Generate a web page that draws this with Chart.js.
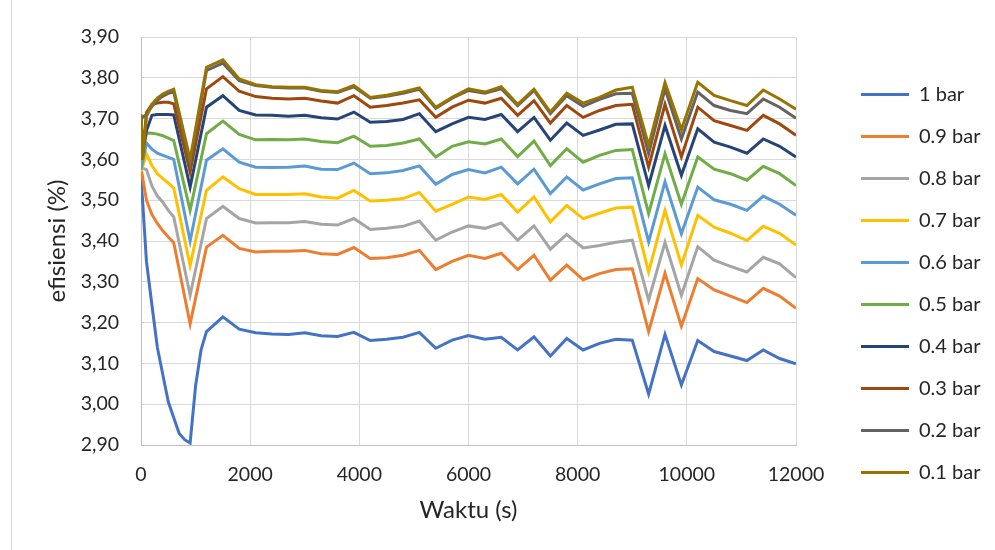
<!DOCTYPE html>
<html><head><meta charset="utf-8">
<script src="https://cdn.jsdelivr.net/npm/chart.js@4.4.1/dist/chart.umd.min.js"></script>
<style>html,body{margin:0;padding:0;background:#fff;}#wrap{width:995px;height:550px;}</style>
</head><body><div id="wrap"><canvas id="c" width="995" height="550"></canvas></div>
<script>
// time (s)
const times = [0, 30, 100, 200, 300, 400, 500, 600, 700, 800, 900, 1000, 1100, 1200, 1500, 1800,
  2100, 2400, 2700, 3000, 3300, 3600, 3900, 4200, 4500, 4800, 5100, 5400, 5700, 6000,
  6300, 6600, 6900, 7200, 7500, 7800, 8100, 8400, 8700, 9000, 9300, 9600, 9900, 10200,
  10500, 10800, 11100, 11400, 11700, 12000];

const seriesNames = ['1 bar', '0.9 bar', '0.8 bar', '0.7 bar', '0.6 bar', '0.5 bar', '0.4 bar', '0.3 bar', '0.2 bar', '0.1 bar'];
const seriesColors = ['#4472C4', '#ED7D31', '#A5A5A5', '#FFC000', '#5B9BD5', '#70AD47', '#264478', '#9E480E', '#636363', '#997300'];

const bar10 = [3.56, null, 3.35, 3.243, 3.139, 3.072, 3.006, 2.967, 2.928, 2.913, 2.905, 3.045, 3.133, 3.178, 3.214, 3.184,
  3.175, 3.172, 3.171, 3.175, 3.168, 3.166, 3.176, 3.156, 3.159, 3.164, 3.176, 3.137, 3.157, 3.168,
  3.159, 3.164, 3.133, 3.165, 3.118, 3.161, 3.133, 3.149, 3.159, 3.157, 3.025, 3.171, 3.047, 3.156,
  3.129, 3.118, 3.107, 3.133, 3.112, 3.099];
const bar09 = [3.58, null, 3.50, 3.465, 3.443, 3.425, 3.41, 3.396, null, null, 3.197, null, null, 3.385, 3.414, 3.382,
  3.373, 3.375, 3.375, 3.377, 3.369, 3.367, 3.384, 3.357, 3.359, 3.365, 3.377, 3.33, 3.35, 3.365,
  3.357, 3.37, 3.33, 3.365, 3.304, 3.341, 3.305, 3.32, 3.33, 3.332, 3.178, 3.321, 3.191, 3.308,
  3.28, 3.265, 3.249, 3.284, 3.265, 3.235];
const bar08 = [3.58, null, 3.575, 3.535, 3.51, 3.495, 3.475, 3.459, null, null, 3.267, null, null, 3.455, 3.485, 3.455,
  3.444, 3.445, 3.445, 3.448, 3.441, 3.439, 3.455, 3.428, 3.431, 3.436, 3.449, 3.402, 3.422, 3.437,
  3.431, 3.444, 3.402, 3.437, 3.38, 3.416, 3.383, 3.389, 3.397, 3.402, 3.255, 3.397, 3.267, 3.386,
  3.353, 3.338, 3.324, 3.36, 3.344, 3.31];
const bar07 = [3.57, null, 3.613, 3.585, 3.565, 3.553, 3.542, 3.53, null, null, 3.34, null, null, 3.524, 3.557, 3.528,
  3.514, 3.514, 3.514, 3.516, 3.508, 3.505, 3.524, 3.498, 3.50, 3.504, 3.519, 3.473, 3.49, 3.508,
  3.502, 3.514, 3.471, 3.508, 3.447, 3.487, 3.455, 3.468, 3.481, 3.483, 3.324, 3.475, 3.341, 3.463,
  3.434, 3.419, 3.401, 3.436, 3.419, 3.39];
const bar06 = [3.575, null, 3.64, 3.625, 3.615, 3.61, 3.605, 3.60, null, null, 3.40, null, null, 3.598, 3.626, 3.593,
  3.581, 3.58, 3.581, 3.584, 3.576, 3.575, 3.591, 3.565, 3.567, 3.573, 3.584, 3.539, 3.563, 3.575,
  3.567, 3.581, 3.54, 3.576, 3.516, 3.557, 3.525, 3.54, 3.553, 3.555, 3.398, 3.545, 3.418, 3.532,
  3.501, 3.49, 3.475, 3.51, 3.49, 3.463];
const bar05 = [3.59, null, 3.665, 3.664, 3.662, 3.658, 3.652, 3.646, null, null, 3.475, null, null, 3.663, 3.694, 3.661,
  3.648, 3.649, 3.648, 3.65, 3.644, 3.641, 3.657, 3.632, 3.634, 3.64, 3.65, 3.606, 3.632, 3.643,
  3.638, 3.65, 3.607, 3.645, 3.585, 3.626, 3.593, 3.61, 3.622, 3.624, 3.467, 3.614, 3.49, 3.606,
  3.576, 3.565, 3.549, 3.583, 3.565, 3.536];
const bar04 = [3.60, null, 3.67, 3.708, 3.71, 3.71, 3.71, 3.709, null, null, 3.532, null, null, 3.728, 3.756, 3.72,
  3.709, 3.708, 3.706, 3.708, 3.702, 3.699, 3.716, 3.691, 3.693, 3.698, 3.712, 3.668, 3.687, 3.703,
  3.698, 3.71, 3.668, 3.703, 3.647, 3.689, 3.659, 3.672, 3.686, 3.687, 3.536, 3.683, 3.561, 3.675,
  3.642, 3.63, 3.615, 3.65, 3.632, 3.606];
const bar03 = [3.71, 3.61, 3.715, 3.735, 3.738, 3.74, 3.74, 3.736, null, null, 3.569, null, null, 3.773, 3.803, 3.767,
  3.754, 3.75, 3.748, 3.75, 3.743, 3.738, 3.756, 3.728, 3.732, 3.738, 3.746, 3.703, 3.728, 3.745,
  3.738, 3.75, 3.708, 3.744, 3.689, 3.732, 3.703, 3.72, 3.732, 3.735, 3.581, 3.735, 3.606, 3.728,
  3.695, 3.683, 3.671, 3.708, 3.687, 3.659];
const bar02 = [3.70, null, 3.71, 3.73, 3.745, 3.755, 3.762, 3.765, null, null, 3.59, null, null, 3.818, 3.836, 3.793,
  3.781, 3.777, 3.775, 3.775, 3.767, 3.764, 3.778, 3.75, 3.755, 3.762, 3.772, 3.725, 3.75, 3.769,
  3.762, 3.773, 3.732, 3.769, 3.712, 3.756, 3.73, 3.747, 3.761, 3.762, 3.614, 3.773, 3.65, 3.765,
  3.732, 3.72, 3.712, 3.748, 3.728, 3.701];
const bar01 = [3.71, 3.60, 3.705, 3.735, 3.75, 3.76, 3.767, 3.772, null, null, 3.60, null, null, 3.826, 3.844, 3.797,
  3.783, 3.778, 3.777, 3.777, 3.769, 3.766, 3.781, 3.752, 3.757, 3.765, 3.775, 3.728, 3.752, 3.773,
  3.765, 3.778, 3.735, 3.772, 3.716, 3.762, 3.738, 3.752, 3.77, 3.777, 3.634, 3.788, 3.673, 3.789,
  3.757, 3.744, 3.732, 3.77, 3.748, 3.723];

const seriesValues = [bar10, bar09, bar08, bar07, bar06, bar05, bar04, bar03, bar02, bar01];

const yTicks = { min: 2.9, max: 3.9, step: 0.1 };
const xTicks = { min: 0, max: 12000, step: 2000 };

const FONT = 'Lato';
const TXT = '#262626';
const TICK_SIZE = 19.5, TITLE_SIZE = 24, LEGEND_SIZE = 20;

const datasets = seriesValues.map((vals, i) => ({
  label: seriesNames[i],
  data: times.map((t, k) => ({ x: t, y: vals[k] })).filter(p => p.y !== null),
  borderColor: seriesColors[i],
  backgroundColor: seriesColors[i],
  borderWidth: 3,
  pointRadius: 0,
  pointHoverRadius: 0,
  tension: 0,
  fill: false,
  order: seriesValues.length - i,
  pointStyle: 'line'
}));

const frame = {
  id: 'frame',
  beforeDraw(chart) {
    const c = chart.ctx;
    c.save();
    c.fillStyle = '#fff';
    c.fillRect(0, 0, chart.width, chart.height);
    c.strokeStyle = '#D9D9D9';
    c.lineWidth = 1;
    c.beginPath();
    c.moveTo(11.5, 0); c.lineTo(11.5, 550);
    c.stroke();
    c.restore();
  }
};

const PLOT_LEFT = 141, PLOT_RIGHT = 796, PLOT_TOP = 37, PLOT_BOTTOM = 445;
const LEG_PAD = 22;
const LEGEND_LEFT = 861 - LEG_PAD;
const PAD_LEFT = 28, PAD_BOTTOM = 20;

const config = {
  type: 'line',
  data: { datasets },
  plugins: [frame],
  options: {
    responsive: false,
    animation: false,
    events: [],
    layout: { padding: { left: PAD_LEFT, right: 0, top: PLOT_TOP, bottom: PAD_BOTTOM } },
    plugins: {
      tooltip: { enabled: false },
      legend: {
        position: 'right',
        align: 'center',
        maxWidth: 400,
        labels: {
          usePointStyle: true,
          pointStyleWidth: 48,
          padding: LEG_PAD,
          color: TXT,
          font: { family: FONT, size: LEGEND_SIZE },
          sort: (a, b) => a.datasetIndex - b.datasetIndex
        }
      }
    },
    scales: {
      x: {
        type: 'linear',
        min: xTicks.min, max: xTicks.max,
        ticks: { stepSize: xTicks.step, color: TXT, font: { family: FONT, size: TICK_SIZE }, padding: 18,
          callback: v => String(v), maxRotation: 0 },
        grid: { color: '#D9D9D9', drawTicks: false, lineWidth: 1 },
        border: { color: '#BFBFBF' },
        title: { display: true, text: 'Waktu (s)', color: TXT, font: { family: FONT, size: TITLE_SIZE, lineHeight: 1.2 }, padding: { top: 0, bottom: 5 } },
        afterFit(s) { s.height = 550 - PAD_BOTTOM - PLOT_BOTTOM; }
      },
      y: {
        type: 'linear',
        min: yTicks.min, max: yTicks.max,
        ticks: { stepSize: yTicks.step, color: TXT, font: { family: FONT, size: TICK_SIZE }, padding: 22,
          callback: v => (Math.round(v * 100) / 100).toFixed(2).replace('.', ',') },
        grid: { color: '#D9D9D9', drawTicks: false, lineWidth: 1 },
        border: { color: '#BFBFBF' },
        title: { display: true, text: 'efisiensi (%)', color: TXT, font: { family: FONT, size: TITLE_SIZE, lineHeight: 1.2 }, padding: { top: 15, bottom: 0 } },
        afterFit(s) { s.width = PLOT_LEFT - PAD_LEFT; }
      },
      gap: {
        type: 'linear',
        position: 'right',
        display: true,
        grid: { display: false, drawTicks: false },
        ticks: { display: false },
        border: { display: false },
        afterFit(s) { s.width = LEGEND_LEFT - PLOT_RIGHT; }
      }
    }
  }
};

const chart = new Chart(document.getElementById('c'), config);
for (let k = 0; k < 2; k++) {
  const legW = chart.legend.width;
  chart.options.layout.padding.right = Math.max(0, 995 - LEGEND_LEFT - legW);
  chart.update('none');
}
</script>
</body></html>
